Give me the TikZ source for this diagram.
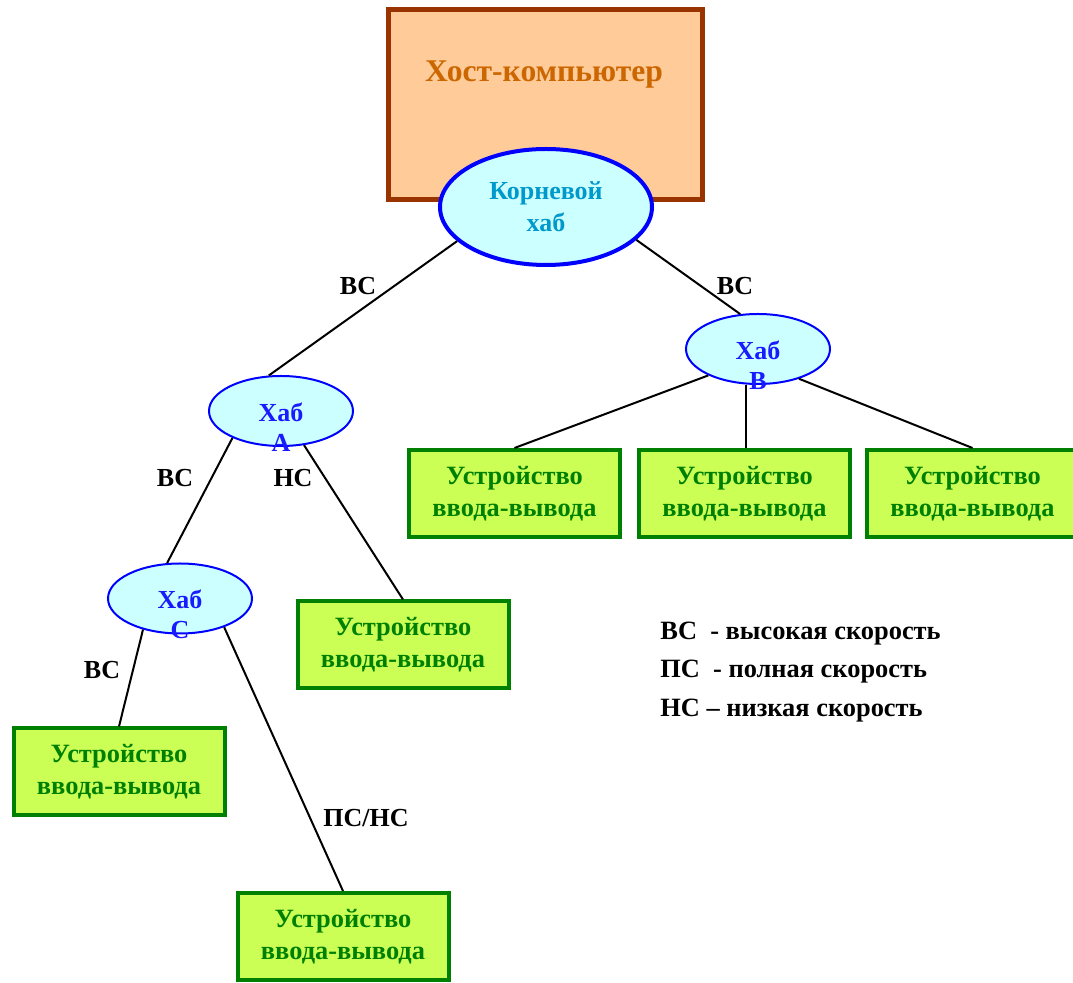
\documentclass[tikz,border=0pt]{standalone}
\usepackage{fontspec}
\setmainfont{Liberation Serif}
\usetikzlibrary{shapes.geometric}

\definecolor{hostfill}{HTML}{FFCC99}
\definecolor{hostedge}{HTML}{993300}
\definecolor{hosttext}{HTML}{CC6600}
\definecolor{hubfill}{HTML}{CCFFFF}
\definecolor{hubedge}{HTML}{0000FF}
\definecolor{roottext}{HTML}{0099CC}
\definecolor{hubtext}{HTML}{1A1AFF}
\definecolor{devfill}{HTML}{CCFF55}
\definecolor{devedge}{HTML}{008000}

\tikzstyle{host}=[rectangle,draw=hostedge,fill=hostfill,line width=2.5pt,minimum width=157pt,minimum height=95pt,inner sep=0pt]
\tikzstyle{hosttxt}=[text=hosttext,font=\bfseries\fontsize{15.8}{20}\selectfont,inner sep=0pt]
\tikzstyle{roothub}=[ellipse,draw=hubedge,fill=hubfill,line width=2pt,minimum width=106pt,minimum height=58pt,inner sep=0pt,text=roottext,font=\bfseries\fontsize{13}{16}\selectfont,align=center]
\tikzstyle{hub}=[ellipse,draw=hubedge,fill=hubfill,line width=1pt,minimum width=72pt,minimum height=35pt]
\tikzstyle{hubtxt}=[text=hubtext,font=\bfseries\fontsize{13}{15}\selectfont,align=center,inner sep=0pt,anchor=north]
\tikzstyle{device}=[rectangle,draw=devedge,fill=devfill,line width=2pt,minimum width=105.5pt,minimum height=43.5pt,inner sep=0pt,text=devedge,font=\bfseries\fontsize{13.2}{16}\selectfont,align=center]
\tikzstyle{link}=[line width=1pt]
\tikzstyle{lbl}=[font=\bfseries\fontsize{13}{15}\selectfont,inner sep=0pt]
\tikzstyle{legend}=[font=\bfseries\fontsize{13.2}{15}\selectfont,inner sep=0pt,anchor=base west]

\begin{document}
\begin{tikzpicture}[x=0.5pt,y=-0.5pt]
        \useasboundingbox (0,0) rectangle (1073,983);

        % host and root hub
        \node[host] (host) at (545.5,104.5) {};
        \node[hosttxt] (hosttitle) at (544,75) {Хост-компьютер};
        \node[roothub] (root) at (546,207) {Корневой\\хаб};

        % hubs
        \node[hub] (hubA) at (281,411) {};
        \node[hub] (hubB) at (758,349) {};
        \node[hub] (hubC) at (180,598.5) {};

        % devices
        \node[device] (devB1) at (514.5,493.5) {Устройство\\ввода-вывода};
        \node[device] (devB2) at (744.5,493.5) {Устройство\\ввода-вывода};
        \node[device] (devB3) at (972.5,493.5) {Устройство\\ввода-вывода};
        \node[device] (devA)  at (403,645)     {Устройство\\ввода-вывода};
        \node[device] (devC1) at (119,772)     {Устройство\\ввода-вывода};
        \node[device] (devC2) at (343,936.5)   {Устройство\\ввода-вывода};

        % links
        \draw[link] (root.201)  -- (hubA.109);
        \draw[link] (root.340)  -- (hubB.117);
        \draw[link] (hubA.209)  -- (hubC.110);
        \draw[link] (hubA.304)  -- (devA.north);
        \draw[link] (hubB.208)  -- (devB1.north);
        \draw[link] ([xshift=0.75pt]devB2.north) -- ([xshift=0.75pt]devB2.north |- hubB.south);
        \draw[link] (hubB.324)  -- (devB3.north);
        \draw[link] (hubC.220)  -- (devC1.north);
        \draw[link] (hubC.327)  -- (devC2.north);

        % hub names
        \node[hubtxt] (hubAtxt) at ([yshift=4.5pt]hubA.center) {Хаб\\А};
        \node[hubtxt] (hubBtxt) at ([yshift=4.5pt]hubB.center) {Хаб\\В};
        \node[hubtxt] (hubCtxt) at ([yshift=4.5pt]hubC.center) {Хаб\\С};

        % speeds
        \node[lbl] (lRA) at (358,286) {ВС};
        \node[lbl] (lRB) at (735,286) {ВС};
        \node[lbl] (lAC) at (175,478) {ВС};
        \node[lbl] (lAD) at (293,478) {НС};
        \node[lbl] (lC1) at (102,670) {ВС};
        \node[lbl] (lC2) at (366,818) {ПС/НС};

        \node[legend] (leg1) at (660,640) {ВС~~- высокая скорость};
        \node[legend] (leg2) at (660,678) {ПС~~- полная скорость};
        \node[legend] (leg3) at (660,717) {НС -- низкая скорость};
\end{tikzpicture}
\end{document}
